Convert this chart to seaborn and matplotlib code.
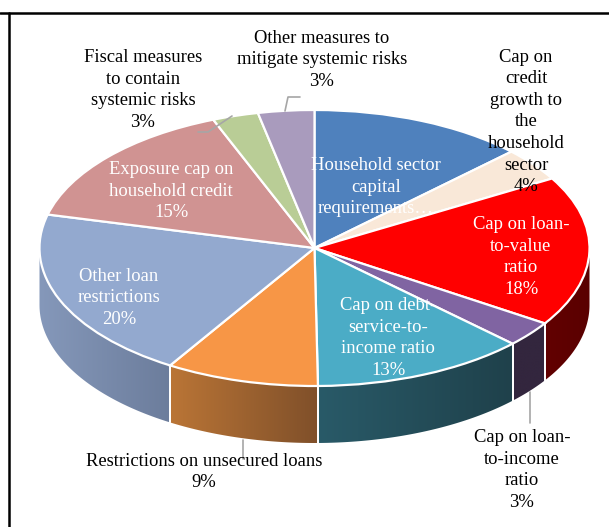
import numpy as np
import matplotlib
matplotlib.use('Agg')
import matplotlib.pyplot as plt
from matplotlib.lines import Line2D
from matplotlib.patches import Polygon
import seaborn as sns

# slices go clockwise from the top
categories = ['Household sector\ncapital\nrequirements…', 'Cap on\ncredit\ngrowth to\nthe\nhousehold\nsector',
  'Cap on loan-\nto-value\nratio', 'Cap on loan-\nto-income\nratio', 'Cap on debt-\nservice-to-\nincome ratio',
  'Restrictions on unsecured loans', 'Other loan\nrestrictions', 'Exposure cap on\nhousehold credit',
  'Fiscal measures\nto contain\nsystemic risks', 'Other measures to\nmitigate systemic risks']
values = [12.7, 3.9, 17.6, 3.0, 12.6, 9.0, 20.1, 15.1, 2.7, 3.3]
top_colors = ['#4F81BD', '#F9E8D8', '#FF0000', '#8064A2', '#4BACC6', '#F79646', '#93A9CF', '#D09392', '#B9CD96', '#A99BBD']
side_left = ['#2F4D71', '#958B81', '#620000', '#33263E', '#295A68', '#BA7536', '#8598BA', '#7D5857', '#6F7B5A', '#655D71']
side_right = ['#2F4D71', '#958B81', '#5A0000', '#33263E', '#1F414B', '#80502A', '#6C7D9C', '#7D5857', '#6F7B5A', '#655D71']
text_colors = ['white', 'black', 'white', 'black', 'white', 'black', 'white', 'white', 'black', 'black']
label_px = [(376, 187), (526, 122), (521, 257), (522, 470), (388, 338), (204, 472), (119, 298), (171, 191), (143, 90), (322, 60)]

# pie geometry in pixels, the unit circle gets squashed onto this ellipse
W, H = 609, 527
cx, cy, rx, ry = 314.5, 248, 275, 138
depth = 57 / ry

def to_data(px, py):
  return (px - cx) / rx, (cy - py) / ry

sns.set_theme(style='white')
plt.rcParams['font.family'] = ['Liberation Serif', 'DejaVu Serif']

fig = plt.figure(figsize=(W / 100, H / 100), dpi=100)
ax = fig.add_axes([0, 0, 1, 1])
wedges, _ = ax.pie(values, colors=top_colors, startangle=90, counterclock=False,
  wedgeprops={'edgecolor': 'white', 'linewidth': 1.6, 'zorder': 3})

# side wall, only the front half of the pie shows
cum = np.cumsum([0] + values) / sum(values)
for i in range(len(values)):
  t0 = (90 - 360 * cum[i]) % 360
  t1 = t0 - 360 * values[i] / sum(values)
  # angles measured in -360..360, the front half is -180..0 or 180..360
  if t0 > 180:
    t0 -= 360
    t1 -= 360
  hi = min(t0, 0)
  lo = max(t1, -180)
  if hi <= lo:
    continue
  t = np.radians(np.linspace(hi, lo, 80))
  x = np.cos(t)
  y = np.sin(t)
  shape = Polygon(np.column_stack([np.r_[x, x[::-1]], np.r_[y, y[::-1] - depth]]), transform=ax.transData)
  shades = np.array(sns.blend_palette([side_left[i], side_right[i]], 128))[:, :3]
  im = ax.imshow(shades[np.newaxis, :, :], extent=[x.min(), x.max(), y.min() - depth, y.max()],
    aspect='auto', interpolation='bilinear', zorder=1)
  im.set_clip_path(shape)
  # white seams between neighbouring slices
  for xe, ye in [(x[0], y[0]), (x[-1], y[-1])]:
    if abs(xe) < 0.995:
      ax.plot([xe, xe], [ye, ye - depth], color='white', lw=1.4, zorder=2)

ax.set_aspect('auto')
ax.set_xlim(to_data(0, 0)[0], to_data(W, 0)[0])
ax.set_ylim(to_data(0, H)[1], to_data(0, 0)[1])
ax.axis('off')

# leader lines
leaders = [[(285, 111), (288, 97), (300, 97)], [(232, 116), (208, 132), (198, 132)],
  [(243, 440), (243, 459)], [(530, 392), (530, 423)]]
for pts in leaders:
  d = [to_data(*p) for p in pts]
  ax.plot([p[0] for p in d], [p[1] for p in d], color='#A6A6A6', lw=1.2, zorder=4)

for i in range(len(values)):
  lx, ly = to_data(*label_px[i])
  # the household label is cut off in the source, no value shown
  label = categories[i] if '…' in categories[i] else f'{categories[i]}\n{values[i]:.0f}%'
  ax.text(lx, ly, label, color=text_colors[i], fontsize=13.4,
    ha='center', va='center', linespacing=1.35, zorder=5)

# frame of the page
fig.add_artist(Line2D([0, 1], [1 - 13 / H, 1 - 13 / H], color='black', lw=1.8))
fig.add_artist(Line2D([9 / W, 9 / W], [0, 1 - 13 / H], color='black', lw=1.8))

fig.savefig('out.png', dpi=100)
